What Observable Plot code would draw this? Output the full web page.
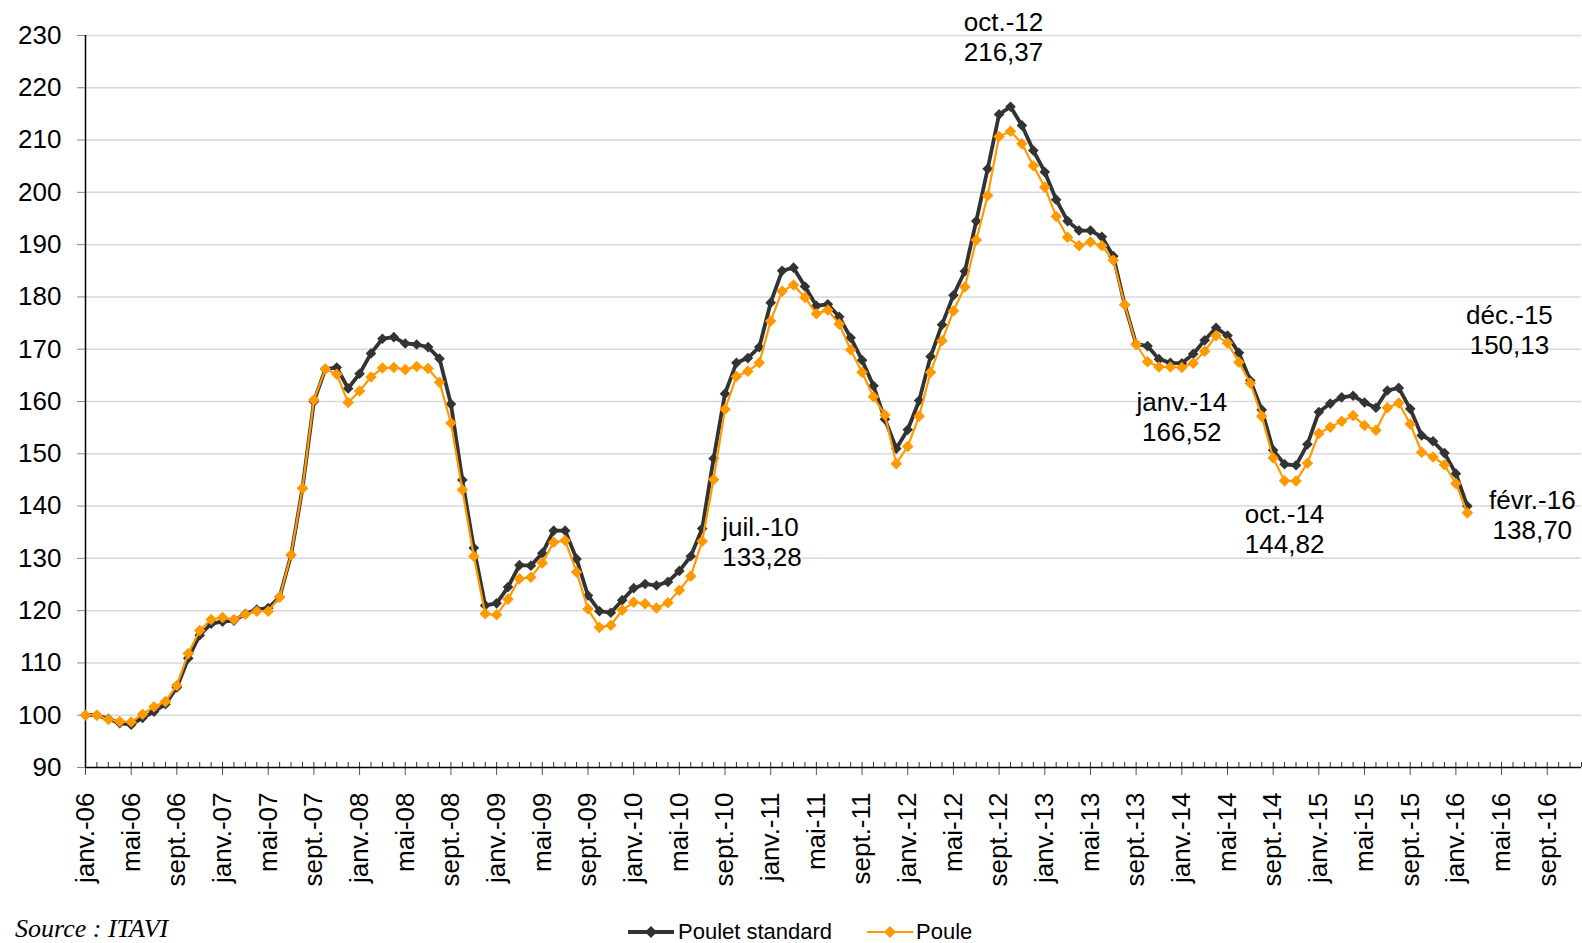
<!DOCTYPE html>
<html>
<head>
<meta charset="utf-8">
<script src="https://cdn.jsdelivr.net/npm/d3@7"></script>
<script src="https://cdn.jsdelivr.net/npm/@observablehq/plot@0.6"></script>
<style>
  html, body { margin: 0; padding: 0; background: #fff; overflow: hidden; }
  #wrap { position: relative; width: 1582px; height: 943px; overflow: hidden; font-family: "Liberation Sans", Arial, sans-serif; }
  #legend { position: relative; width: 1582px; height: 31px; }
  .sw { position: absolute; }
  .lt { position: absolute; font-size: 22px; line-height: 22px; color: #000; white-space: nowrap; }
  #source { position: absolute; left: 15px; top: 4px; font-family: "Liberation Serif", "Times New Roman", serif; font-style: italic; font-size: 26px; line-height: 26px; white-space: nowrap; }
</style>
</head>
<body>
<div id="wrap">
  <div id="chart"></div>
  <div id="legend"></div>
</div>
<script>
// ---- Data ----
const moisAbbr = ["janv.", "févr.", "mars", "avr.", "mai", "juin", "juil.", "août", "sept.", "oct.", "nov.", "déc."];
const annees = ["06", "07", "08", "09", "10", "11", "12", "13", "14", "15", "16"];
const mois = annees.flatMap(a => moisAbbr.map(m => m + "-" + a)); // janv.-06 … déc.-16

const pouletStandard = [
  100.0, 100.0, 99.3, 98.5, 98.2, 99.5, 100.7, 102.1, 105.3, 110.9, 115.3, 117.5,
  117.9, 118.1, 119.4, 120.2, 120.5, 122.6, 130.6, 143.4, 160.0, 166.2, 166.5, 162.5,
  165.3, 169.2, 172.0, 172.3, 171.1, 170.9, 170.4, 168.2, 159.5, 145.0, 132.0, 121.0,
  121.4, 124.5, 128.7, 128.6, 131.0, 135.3, 135.3, 129.9, 122.9, 119.9, 119.6, 122.0,
  124.3, 125.1, 124.8, 125.5, 127.6, 130.4, 135.7, 149.1, 161.5, 167.4, 168.3, 170.4,
  178.9, 185.0, 185.6, 182.0, 178.3, 178.6, 176.2, 172.2, 167.9, 163.0, 156.6, 151.0,
  154.6, 160.2, 168.6, 174.7, 180.3, 184.9, 194.5, 204.5, 214.9, 216.37, 212.8, 208.0,
  203.9, 198.6, 194.5, 192.7, 192.7, 191.5, 187.8, 178.5, 171.0, 170.6, 168.1, 167.4,
  167.3, 169.1, 171.7, 174.1, 172.6, 169.3, 164.0, 158.4, 150.7, 148.0, 147.8, 151.8,
  158.0, 159.6, 160.8, 161.1, 159.8, 158.8, 162.1, 162.6, 158.6, 153.5, 152.4, 150.13,
  146.2, 140.0
];
const poule = [
  100.0, 100.0, 99.2, 98.8, 98.7, 100.2, 101.6, 102.6, 105.7, 111.8, 116.2, 118.3,
  118.7, 118.3, 119.3, 119.9, 119.9, 122.6, 130.7, 143.4, 160.3, 166.2, 165.2, 159.8,
  162.0, 164.7, 166.4, 166.5, 166.1, 166.7, 166.3, 163.7, 155.9, 143.1, 130.4, 119.4,
  119.2, 122.2, 126.1, 126.4, 129.1, 133.1, 133.4, 127.4, 120.3, 116.8, 117.2, 120.1,
  121.6, 121.3, 120.5, 121.5, 123.9, 126.6, 133.28, 145.1, 158.5, 164.8, 165.8, 167.4,
  175.4, 181.1, 182.3, 179.9, 176.8, 177.5, 174.8, 169.9, 165.6, 160.9, 157.4, 148.1,
  151.4, 157.2, 165.6, 171.6, 177.3, 181.9, 190.9, 199.4, 210.7, 211.7, 209.3, 205.1,
  201.0, 195.4, 191.4, 189.8, 190.5, 189.8, 187.0, 178.5, 170.9, 167.6, 166.6, 166.6,
  166.52, 167.3, 169.6, 172.6, 171.2, 167.5, 163.5, 157.2, 149.2, 144.82, 144.8, 148.2,
  153.9, 155.1, 156.2, 157.3, 155.4, 154.5, 158.8, 159.7, 155.7, 150.3, 149.4, 147.9,
  144.3, 138.70
];
const yTicks = [90, 100, 110, 120, 130, 140, 150, 160, 170, 180, 190, 200, 210, 220, 230];
const seriesNames = ["Poulet standard", "Poule"];
// annotated points: month label and series
const annotMois = ["juil.-10", "oct.-12", "janv.-14", "oct.-14", "déc.-15", "févr.-16"];
const annotSerie = ["Poule", "Poulet standard", "Poule", "Poule", "Poulet standard", "Poule"];

// ---- Build tables ----
const seriesValues = {"Poulet standard": pouletStandard, "Poule": poule};
const rows = s => seriesValues[s].map((v, i) => ({i, v, mois: mois[i]}));
const majorTicks = d3.range(0, mois.length, 4);
const allMonths = d3.range(0, mois.length);
const fmt = v => v.toFixed(2).replace(".", ",");
const annots = annotMois.map((m, k) => {
  const i = mois.indexOf(m);
  const v = seriesValues[annotSerie[k]][i];
  return {i, v, text: m + "\n" + fmt(v)};
});

// ---- Styles / layout ----
const colors = {"Poulet standard": "#333333", "Poule": "#FF9900"};
const lineW = {"Poulet standard": 3.8, "Poule": 2.2};
const dotR = {"Poulet standard": 4.8, "Poule": 5.2};
const annotLayout = [
  {dx: 20, dy: 0, textAnchor: "start"},
  {dx: -7, dy: -70, textAnchor: "middle"},
  {dx: 0, dy: 49, textAnchor: "middle"},
  {dx: 0, dy: 48, textAnchor: "middle"},
  {dx: 65, dy: -124, textAnchor: "middle"},
  {dx: 65, dy: 2, textAnchor: "middle"}
];

const W = 1582, H = 912, mTop = 35, mBottom = 145, mLeft = 85, mRight = 1;
const plotH = H - mTop - mBottom;

const marks = [
  Plot.gridY(yTicks.filter(t => t > 90), {stroke: "#d9d9d9", strokeOpacity: 1, strokeWidth: 1.5}),
  // minor ticks (inside, every month)
  Plot.ruleX(allMonths, {x: d => d, stroke: "#333", strokeWidth: 1, insetTop: plotH - 5}),
  Plot.axisX({ticks: majorTicks, tickFormat: i => mois[i], tickSize: 8, tickPadding: 17, tickRotate: -90,
              fontSize: 26, stroke: "#555", fill: "#000", label: null}),
  Plot.axisY({ticks: yTicks, tickSize: 8, tickPadding: 16, fontSize: 26, stroke: "#888", fill: "#000", label: null}),
  Plot.ruleY([90], {stroke: "#000", strokeWidth: 1.5}),
  Plot.ruleX([0], {stroke: "#000", strokeWidth: 1.5})
];
for (const s of seriesNames) {
  marks.push(Plot.line(rows(s), {x: "i", y: "v", stroke: colors[s], strokeWidth: lineW[s], curve: "linear"}));
  marks.push(Plot.dot(rows(s), {x: "i", y: "v", symbol: d3.symbolDiamond2, r: dotR[s], fill: colors[s], stroke: "none"}));
}
annots.forEach((a, k) => {
  marks.push(Plot.text([a], {x: "i", y: "v", text: "text", fontSize: 26, lineHeight: 1.15, fill: "#000",
    dx: annotLayout[k].dx, dy: annotLayout[k].dy, textAnchor: annotLayout[k].textAnchor}));
});

const chart = Plot.plot({
  width: W, height: H,
  marginTop: mTop, marginBottom: mBottom, marginLeft: mLeft, marginRight: mRight,
  style: {fontFamily: "'Liberation Sans', Arial, sans-serif", fontSize: "26px", background: "#fff", overflow: "visible"},
  x: {type: "linear", domain: [0, mois.length - 1], axis: null},
  y: {domain: [90, 230], axis: null},
  marks
});
document.getElementById("chart").appendChild(chart);

// ---- Legend ----
const legend = document.getElementById("legend");
const legendPos = [{sw: 628, tx: 678}, {sw: 867, tx: 916}];
seriesNames.forEach((s, k) => {
  const sw = document.createElementNS("http://www.w3.org/2000/svg", "svg");
  sw.setAttribute("width", 46); sw.setAttribute("height", 14);
  sw.setAttribute("class", "sw");
  sw.style.left = legendPos[k].sw + "px"; sw.style.top = "13px";
  sw.innerHTML = `<line x1="0" y1="7" x2="46" y2="7" stroke="${colors[s]}" stroke-width="${lineW[s]}"/>` +
    `<path d="M23,1 L29,7 L23,13 L17,7 Z" fill="${colors[s]}"/>`;
  legend.appendChild(sw);
  const t = document.createElement("div");
  t.className = "lt"; t.textContent = s;
  t.style.left = legendPos[k].tx + "px"; t.style.top = "9px";
  legend.appendChild(t);
});
const src = document.createElement("div");
src.id = "source"; src.textContent = "Source : ITAVI";
legend.appendChild(src);
</script>
</body>
</html>
